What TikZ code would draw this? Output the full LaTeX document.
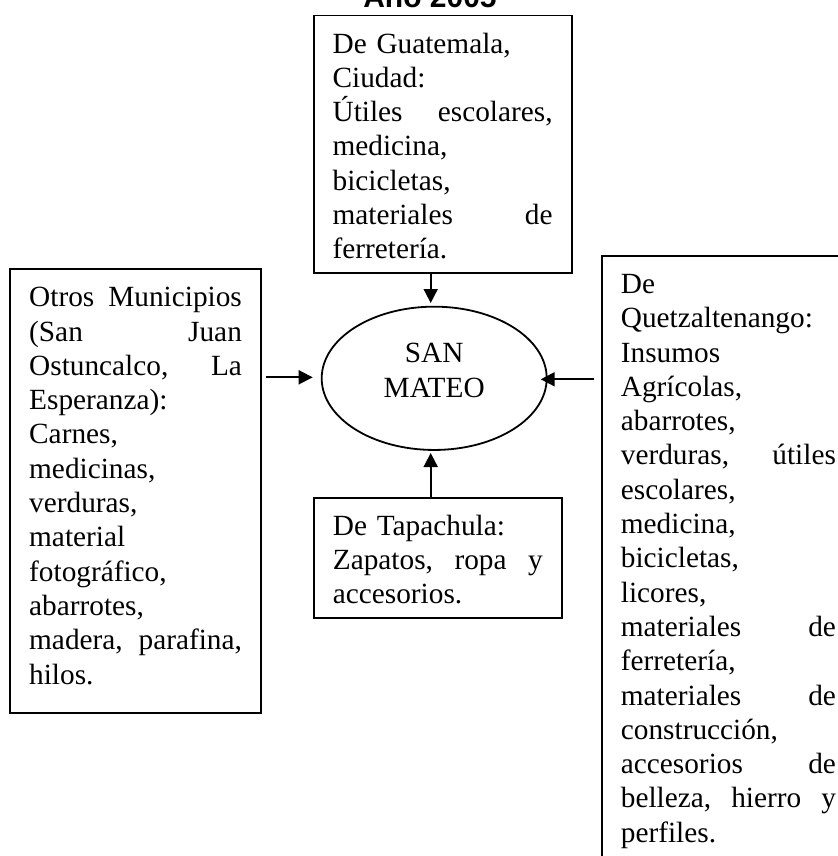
\documentclass[tikz,border=0pt]{standalone}
\usepackage{fontspec}
\setmainfont{Liberation Serif}
\newfontfamily\titlefont{Liberation Sans}
\usetikzlibrary{arrows.meta,shapes.geometric}
\newcommand\topstrut{\rule{0pt}{18.75pt}}
\newcommand\botstrut{\rule[-7pt]{0pt}{7pt}}
\begin{document}
\begin{tikzpicture}[x=0.5pt,y=-0.5pt,line width=0.9pt,
	font=\fontsize{14.65}{17.15}\selectfont,
	caja/.style={draw,anchor=north west,inner xsep=9.5pt,inner ysep=0pt,align=left},
	elipse/.style={draw,ellipse,inner sep=0pt,minimum width=112.5pt,minimum height=71.65pt,align=center},
	flecha/.style={-{Triangle[length=7pt,width=7pt]}}]
		\useasboundingbox (0,0) rectangle (837,856);
		\node[anchor=base,font=\titlefont\bfseries\fontsize{15}{18}\selectfont] (titulo) at (430,7.3) {Año 2005};
		% cajas de origen
		\node[caja,text width=110pt] (guate) at (312.7,14.7) {\topstrut De Guatemala,\\
			Ciudad:\\
			Útiles\hfill escolares,\\
			medicina,\\
			bicicletas,\\
			materiales\hfill de\\
			ferretería.\botstrut};
		\node[caja,text width=106.35pt] (otros) at (9.3,268.3) {\topstrut Otros\hfill Municipios\\
			(San\hfill Juan\\
			Ostuncalco,\hfill La\\
			Esperanza):\\
			Carnes,\\
			medicinas,\\
			verduras,\\
			material\\
			fotográfico,\\
			abarrotes,\\
			madera,\hfill parafina,\\
			hilos.\rule[-14.3pt]{0pt}{14.3pt}};
		\node[caja,text width=105pt] (tapa) at (313,496.7) {\topstrut De Tapachula:\\
			Zapatos,\hfill ropa\hfill y\\
			accesorios.\botstrut};
		\node[caja,text width=107.5pt] (quetza) at (601,255) {\topstrut De\\
			Quetzaltenango:\\
			Insumos\\
			Agrícolas,\\
			abarrotes,\\
			verduras,\hfill útiles\\
			escolares,\\
			medicina,\\
			bicicletas,\\
			licores,\\
			materiales\hfill de\\
			ferretería,\\
			materiales\hfill de\\
			construcción,\\
			accesorios\hfill de\\
			belleza,\hfill hierro\hfill y\\
			perfiles.\rule[-9pt]{0pt}{9pt}};
		\node[elipse] (mateo) at (434.2,378.3) {\strut SAN\\MATEO\rule[-10.45pt]{0pt}{0pt}};
		% flechas
		\coordinate (puntaG) at (430.7,303);
		\coordinate (puntaO) at (312.7,377.3);
		\coordinate (puntaQ) at (540.7,379.3);
		\coordinate (puntaT) at (430.7,453);
		\draw[flecha] (guate.south -| puntaG) -- (puntaG);
		\draw[flecha,shorten <=2pt] (otros.east |- puntaO) -- (puntaO);
		\draw[flecha,shorten <=3.5pt] (quetza.west |- puntaQ) -- (puntaQ);
		\draw[flecha] (tapa.north -| puntaT) -- (puntaT);
\end{tikzpicture}
\end{document}
